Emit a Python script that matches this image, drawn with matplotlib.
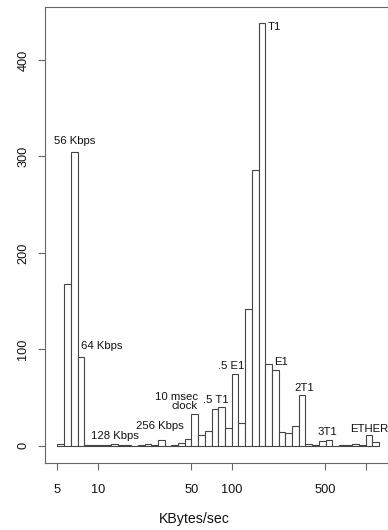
import numpy as np
import matplotlib
matplotlib.use("Agg")
import matplotlib.pyplot as plt

# ---- data ----
bin_start_log10 = 0.70
bin_width_log10 = 0.05
counts = [2, 168, 305, 92, 1, 1, 1, 1, 2, 1, 1, 0, 1, 2, 1, 6,
          0, 1, 3, 7, 33, 11, 15, 38, 40, 18, 74, 24, 142, 286, 438, 85,
          79, 14, 13, 21, 53, 2, 1, 5, 6, 0, 1, 1, 2, 1, 11, 4]
xticks = [5, 10, 50, 100, 500, 1000]
xtick_labels = ["5", "10", "50", "100", "500", ""]
yticks = [0, 100, 200, 300, 400]
ann_text = ["56 Kbps", "64 Kbps", "128 Kbps", "256 Kbps", "10 msec", "clock",
            ".5 T1", ".5 E1", "T1", "E1", "2T1", "3T1", "ETHER"]
ann_x = [6.78, 7.47, 13.5, 28.9, 55.7, 55.7, 75.5, 99.6, 185.0, 233, 349, 514, 1062]
ann_y = [316, 103.5, 10, 20.8, 51, 41, 47.7, 83, 434.5, 86.6, 59.6, 14, 17]
ann_ha = ["center", "left", "center", "center", "right", "right",
          "center", "center", "left", "center", "center", "center", "center"]

plt.rcParams['font.family'] = ['Liberation Sans', 'DejaVu Sans']

W, H = 388, 530
fig = plt.figure(figsize=(W / 100, H / 100), dpi=100)
left_px, right_px, top_px, bot_px = 44.6, 392.0, 6.5, 462.7
ax = fig.add_axes([left_px / W, 1 - bot_px / H, (right_px - left_px) / W, (bot_px - top_px) / H])

n = len(counts)
edges = 10 ** (bin_start_log10 + bin_width_log10 * np.arange(n + 1))
ax.bar(edges[:-1], counts, width=np.diff(edges), align='edge',
       facecolor='white', edgecolor='#444444', linewidth=0.8)
ax.set_xscale('log')
lo, hi = bin_start_log10, bin_start_log10 + bin_width_log10 * n
pad = 0.04 * (hi - lo)
ax.set_xlim(10 ** (lo - pad), 10 ** (hi + pad))
ymax = max(counts)
ax.set_ylim(-0.04 * ymax, 1.04 * ymax)

ax.set_xticks(xticks)
ax.set_xticklabels(xtick_labels)
ax.xaxis.set_minor_locator(matplotlib.ticker.NullLocator())
ax.set_yticks(yticks)
ax.set_yticklabels([str(v) for v in yticks], rotation=90, va='center')

for s in ax.spines.values():
    s.set_color('#666666')
    s.set_linewidth(0.8)
ax.tick_params(axis='both', length=5, width=0.8, color='#666666', labelcolor='#111111')
ax.tick_params(axis='x', labelsize=9.2, pad=10.5)
ax.tick_params(axis='y', labelsize=9.2, pad=6)

for t, x, y, ha in zip(ann_text, ann_x, ann_y, ann_ha):
    ax.text(x, y, t, ha=ha, va='center', fontsize=8.2, color='#111111')

fig.text(0.5, 1 - 519 / H, "KBytes/sec", ha='center', va='center',
         fontsize=10.2, color='#111111')

fig.savefig("out.png", dpi=100)
